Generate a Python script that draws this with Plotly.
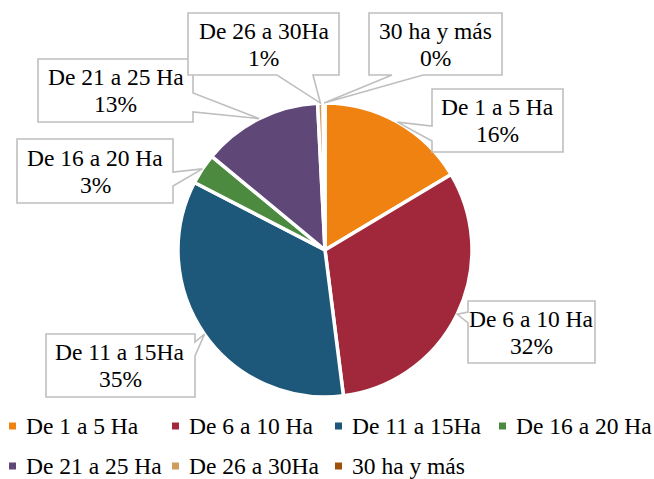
import plotly.graph_objects as go
import math

# ---- data ----
categories = ["De 1 a 5 Ha", "De 6 a 10 Ha", "De 11 a 15Ha", "De 16 a 20 Ha",
              "De 21 a 25 Ha", "De 26 a 30Ha", "30 ha y más"]
values = [16.4, 31.6, 34.6, 3.4, 13.2, 0.6, 0.2]
colors = ["#EF8210", "#A1283B", "#1D5779", "#4C8A3F", "#5F4878", "#CF9C5E", "#9E5008"]

W, H = 654, 479
CX, CY, R = 325, 250, 147  # pie centre / radius in px (layout)
FAMILY = "Liberation Serif, Times New Roman, serif"

total = sum(values)
pcts = [round(v / total * 100) for v in values]

# slice mid-angle edge points (clockwise from 12 o'clock)
tips = []
cum = 0.0
for v in values:
    mid = (cum + v / 2) / total * 2 * math.pi
    tips.append((CX + R * math.sin(mid), CY - R * math.cos(mid)))
    cum += v

# callout boxes: (x0, y0, x1, y1), side of pointer, pointer base (two coords along side)
callouts = [
    ((432, 89, 563, 152), "left", (126, 141)),
    ((468, 301, 595, 363), "left", (312, 323)),
    ((46, 334, 195, 397), "right", (342, 356)),
    ((17, 139, 173, 203), "right", (172, 186)),
    ((38, 59, 193, 122), "right", (93, 112)),
    ((188, 13, 339, 75), "bottom", (277, 313)),
    ((369, 13, 502, 75), "bottom", (392, 423)),
]

# legend layout (px): column x of marker centre, row y centre
legend_cols = [12.5, 175.5, 338.5, 502.5]
legend_rows = [426, 466]


def PX(x):
    return x / W


def PY(y):
    return 1 - y / H


def P(x, y):
    return f"{PX(x):.5f},{PY(y):.5f}"


def callout_path(box, side, base, tip):
    x0, y0, x1, y1 = box
    pts = [(x0, y0), (x1, y0)]
    if side == "right":
        pts += [(x1, base[0]), tip, (x1, base[1])]
    pts += [(x1, y1)]
    if side == "bottom":
        pts += [(base[1], y1), tip, (base[0], y1)]
    pts += [(x0, y1)]
    if side == "left":
        pts += [(x0, base[1]), tip, (x0, base[0])]
    return "M" + " L".join(P(*p) for p in pts) + " Z"


fig = go.Figure(go.Pie(
    labels=categories,
    values=values,
    sort=False,
    direction="clockwise",
    rotation=0,
    textinfo="none",
    hoverinfo="label+percent",
    showlegend=False,
    marker=dict(colors=colors, line=dict(color="white", width=3.5)),
    domain=dict(x=[PX(CX - R), PX(CX + R)], y=[PY(CY + R), PY(CY - R)]),
))

shapes = []
annotations = []
font = dict(family=FAMILY, size=23.5, color="black")
for i, (box, side, base) in enumerate(callouts):
    tip = tips[i]
    shapes.append(dict(type="path", xref="paper", yref="paper",
                       path=callout_path(box, side, base, tip),
                       fillcolor="white", line=dict(color="#BFBFBF", width=1.6), layer="above"))
    cx = (box[0] + box[2]) / 2
    cy = (box[1] + box[3]) / 2
    for txt, dy in ((categories[i], -13.5), (f"{pcts[i]}%", 13.5)):
        annotations.append(dict(x=PX(cx), y=PY(cy + dy), xref="paper", yref="paper",
                                text=txt, showarrow=False, font=font,
                                xanchor="center", yanchor="middle"))

# manual legend
for i, (name, col) in enumerate(zip(categories, colors)):
    mx = legend_cols[i % 4]
    my = legend_rows[i // 4]
    shapes.append(dict(type="rect", xref="paper", yref="paper",
                       x0=PX(mx - 3.5), x1=PX(mx + 3.5), y0=PY(my + 3.5), y1=PY(my - 3.5),
                       fillcolor=col, line=dict(width=0)))
    annotations.append(dict(x=PX(mx + 11), y=PY(my), xref="paper", yref="paper",
                            text=name, showarrow=False, font=font,
                            xanchor="left", yanchor="middle"))

fig.update_layout(
    width=W, height=H,
    margin=dict(l=0, r=0, t=0, b=0),
    paper_bgcolor="white", plot_bgcolor="white",
    font=dict(family=FAMILY),
    shapes=shapes, annotations=annotations,
    showlegend=False,
)

fig.write_html("out.html", config=dict(displayModeBar=False),
               post_script="document.body.style.margin='0';document.body.style.padding='0';")
